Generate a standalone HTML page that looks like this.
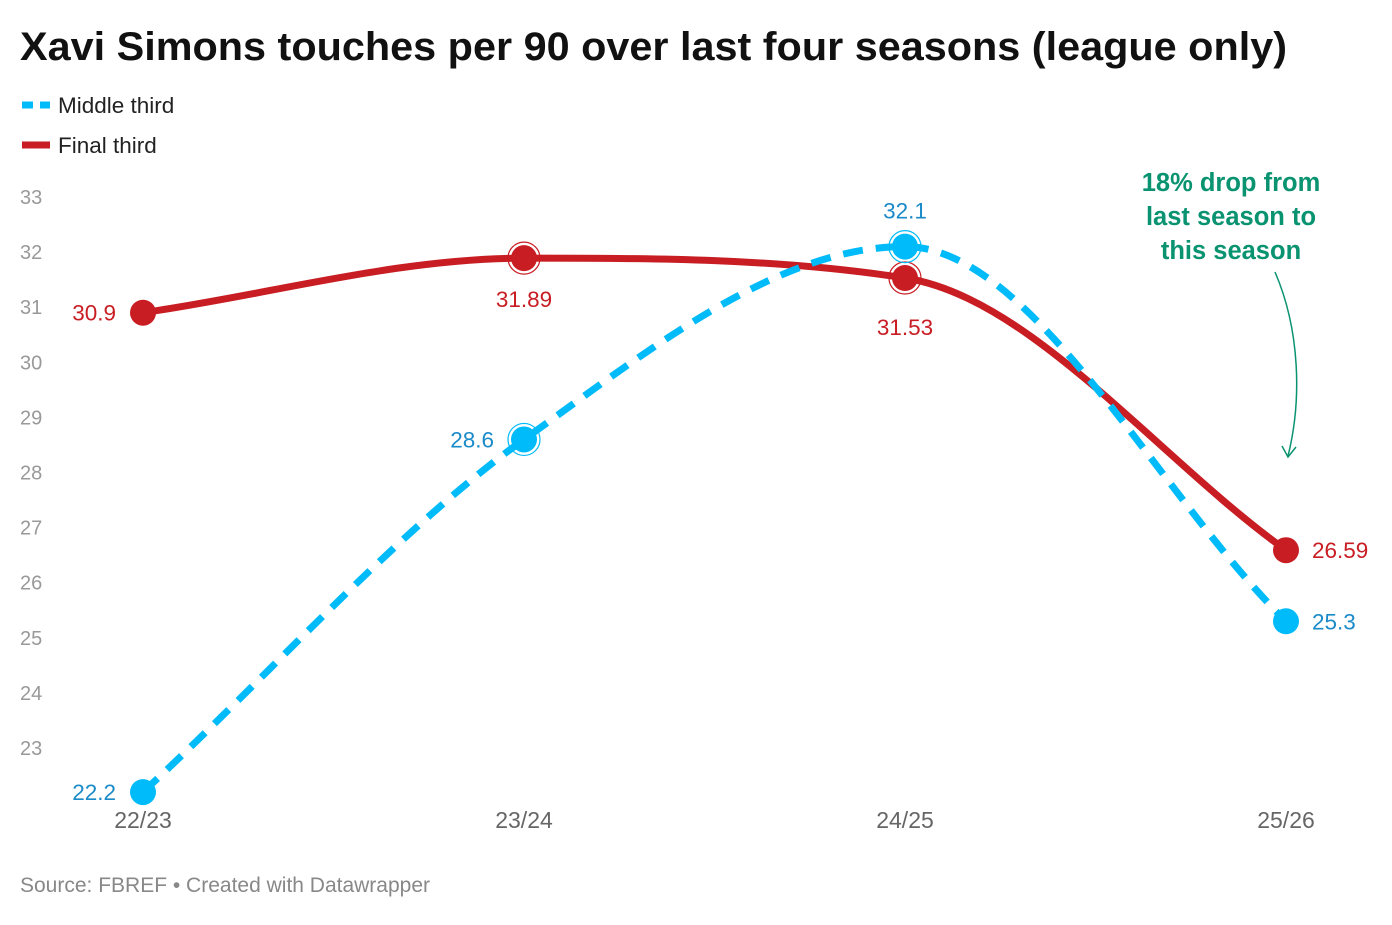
<!DOCTYPE html>
<html><head><meta charset="utf-8">
<style>
html,body{margin:0;padding:0;background:#fff;}
body{width:1392px;height:920px;overflow:hidden;font-family:"Liberation Sans",Arial,sans-serif;}
</style></head>
<body>
<svg id="chart" width="1392" height="920" viewBox="0 0 1392 920" xmlns="http://www.w3.org/2000/svg" font-family="Liberation Sans, Arial, sans-serif">
<text x="20" y="60" font-size="40" font-weight="bold" fill="#111" textLength="1267" lengthAdjust="spacingAndGlyphs">Xavi Simons touches per 90 over last four seasons (league only)</text>
<g>
<line x1="22" y1="105" x2="50" y2="105" stroke="#00bbf9" stroke-width="7" stroke-dasharray="11,7"/>
<text x="58" y="113" font-size="22.5" fill="#222">Middle third</text>
</g>
<g>
<line x1="22" y1="145" x2="50" y2="145" stroke="#c81d23" stroke-width="7"/>
<text x="58" y="153" font-size="22.5" fill="#222">Final third</text>
</g>
<g id="yaxis"></g>
<g id="xaxis"></g>
<g id="series"></g>
<g>
<text x="1231" y="191" font-size="25.5" font-weight="bold" fill="#0a9370" text-anchor="middle">18% drop from</text>
<text x="1231" y="225" font-size="25.5" font-weight="bold" fill="#0a9370" text-anchor="middle">last season to</text>
<text x="1231" y="259" font-size="25.5" font-weight="bold" fill="#0a9370" text-anchor="middle">this season</text>
<path d="M1275,272 C1300,330 1302,400 1288,456" fill="none" stroke="#0a9370" stroke-width="1.5"/>
<path d="M1282,446 L1288,457 L1296,447" fill="none" stroke="#0a9370" stroke-width="1.5"/>
</g>
<text x="20" y="892" font-size="21" fill="#888">Source: FBREF • Created with Datawrapper</text>
</svg>
<script>
const categories = ["22/23","23/24","24/25","25/26"];
const middleThird = [22.2, 28.6, 32.1, 25.3];
const finalThird = [30.9, 31.89, 31.53, 26.59];
const yTicks = [23,24,25,26,27,28,29,30,31,32,33];
const middleLabels = ["22.2","28.6","32.1","25.3"];
const finalLabels = ["30.9","31.89","31.53","26.59"];

const NS="http://www.w3.org/2000/svg";
function x(i){return 143 + i*(1286-143)/(categories.length-1);}
function y(v){return 748 - (v-23)*55.1;}
function mk(tag,attrs,parent){const e=document.createElementNS(NS,tag);for(const k in attrs)e.setAttribute(k,attrs[k]);parent.appendChild(e);return e;}
const ya=document.getElementById('yaxis'), xa=document.getElementById('xaxis'), sg=document.getElementById('series');
yTicks.forEach(t=>{const e=mk('text',{x:20,y:y(t)+7,'font-size':20,fill:'#999'},ya);e.textContent=t;

});
categories.forEach((c,i)=>{const e=mk('text',{x:x(i),y:828,'font-size':23,fill:'#666','text-anchor':'middle'},xa);e.textContent=c;

});
function curve(vals){
const p=vals.map((v,i)=>[x(i),y(v)]);const n=p.length;
const d=[],m=[];
for(let i=0;i<n-1;i++)d.push((p[i+1][1]-p[i][1])/(p[i+1][0]-p[i][0]));
m[0]=d[0];m[n-1]=d[n-2];
for(let i=1;i<n-1;i++){m[i]=(d[i-1]*d[i]<=0)?0:(d[i-1]+d[i])/2;}
for(let i=0;i<n-1;i++){if(d[i]===0){m[i]=0;m[i+1]=0;continue;}
const a=m[i]/d[i],b=m[i+1]/d[i],s=a*a+b*b;if(s>9){const t=3/Math.sqrt(s);m[i]=t*a*d[i];m[i+1]=t*b*d[i];}}
let s=`M${p[0][0]},${p[0][1]}`;
for(let i=0;i<n-1;i++){const h=(p[i+1][0]-p[i][0])/3;
s+=` C${p[i][0]+h},${p[i][1]+m[i]*h} ${p[i+1][0]-h},${p[i+1][1]-m[i+1]*h} ${p[i+1][0]},${p[i+1][1]}`;}
return s;}
function series(vals,labels,color,labColor,dash,name,labPos){
const g=mk('g',{},sg);


const l=mk('path',{d:curve(vals),fill:'none',stroke:color,'stroke-width':7,'stroke-dasharray':dash},g);


vals.forEach((v,i)=>{
if(i==1||i==2){mk('circle',{cx:x(i),cy:y(v),r:16,fill:'none',stroke:color,'stroke-width':1.2},g);}
const c=mk('circle',{cx:x(i),cy:y(v),r:13,fill:color},g);


const lp=labPos[i];
const t=mk('text',{x:x(i)+lp[0],y:y(v)+lp[1],'font-size':22.5,fill:labColor,'text-anchor':lp[2]},g);
t.textContent=labels[i];


});}
series(finalThird,finalLabels,'#c81d23','#c81d23','none','final-third',[[-27,8,'end'],[0,49,'middle'],[0,57,'middle'],[26,8,'start']]);
series(middleThird,middleLabels,'#00bbf9','#1a8ac8','20,13','middle-third',[[-27,8,'end'],[-30,8,'end'],[0,-28,'middle'],[26,8,'start']]);
</script>
</body></html>
